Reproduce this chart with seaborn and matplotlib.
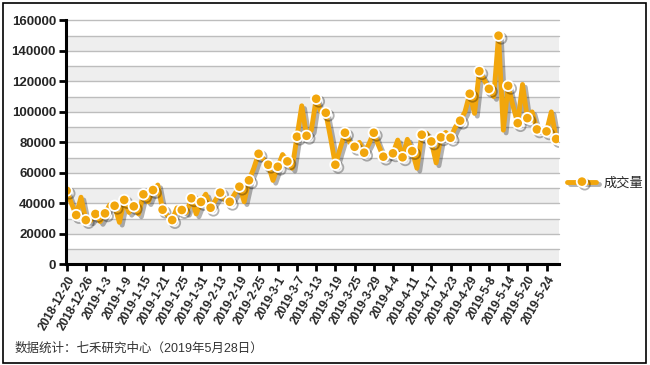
import matplotlib
matplotlib.use("Agg")
import matplotlib.pyplot as plt
import matplotlib.patheffects as pe
from matplotlib.patches import Rectangle
import seaborn as sns
import pandas as pd

# daily trading volume, 2018-12-20 .. 2019-05-28 (trading days only)
volume = [
    48300, 40000, 32300, 44000, 29000, 28500, 33000, 28000, 33400, 39000,
    38400, 27500, 42200, 34000, 38000, 33000, 45900, 41000, 48700, 52000,
    35800, 32000, 29000, 37000, 35600, 34000, 43300, 33000, 40900, 46000,
    37100, 42000, 47000, 42000, 41000, 46000, 50900, 41000, 55100, 63000,
    72500, 69000, 65300, 55000, 64000, 72000, 67500, 63000, 83700, 104000,
    84300, 88000, 108600, 100000, 99400, 83000, 65300, 76000, 86300, 80000,
    77100, 80000, 73200, 79000, 86300, 78000, 70600, 71000, 72800, 81500,
    70200, 82000, 74300, 63000, 85000, 86000, 80600, 66500, 83300, 86500,
    83000, 90000, 94200, 100000, 111900, 99000, 126700, 121000, 115100, 110000,
    150000, 88000, 117100, 104000, 92600, 118000, 95900, 100000, 88500, 88000,
    87200, 100000, 82200,
]

# one label every 4 trading days
tick_labels = [
    "2018-12-20", "2018-12-26", "2019-1-3", "2019-1-9", "2019-1-15", "2019-1-21",
    "2019-1-25", "2019-1-31", "2019-2-13", "2019-2-19", "2019-2-25", "2019-3-1",
    "2019-3-7", "2019-3-13", "2019-3-19", "2019-3-25", "2019-3-29", "2019-4-4",
    "2019-4-11", "2019-4-17", "2019-4-23", "2019-4-29", "2019-5-8", "2019-5-14",
    "2019-5-20", "2019-5-24",
]

series_name = "成交量"
source_note = "数据统计：七禾研究中心（2019年5月28日）"

sns.set_style("white", {"xtick.bottom": True, "ytick.left": True,
                        "axes.edgecolor": "black"})
plt.rcParams["font.family"] = ["Liberation Sans", "Noto Sans CJK SC"]

df = pd.DataFrame({"idx": range(len(volume)), "volume": volume})

fig = plt.figure(figsize=(6.5, 3.65), dpi=100)
ax = fig.add_axes([0.101, 0.276, 0.759, 0.668])

# alternating bands + gridlines
for lo in range(0, 160000, 20000):
    ax.axhspan(lo, lo + 10000, color="#eeeeee", lw=0, zorder=0)
for v in range(0, 160001, 10000):
    ax.axhline(v, color="#bdbdbd", lw=1.0, zorder=1, clip_on=False)

orange = "#F2A60C"
sns.lineplot(
    data=df, x="idx", y="volume", ax=ax, color=orange, lw=3.5,
    marker="o", markersize=7.5, markerfacecolor=orange,
    markeredgecolor="white", markeredgewidth=1.3, markevery=2,
    label=series_name, zorder=3,
    path_effects=[pe.SimpleLineShadow(offset=(2, -2), shadow_color="black", alpha=0.3),
                  pe.Normal()],
)

ax.set_xlim(-0.2, 102.6)
ax.set_ylim(0, 160000)
ax.set_xlabel("")
ax.set_ylabel("")

ax.set_yticks(range(0, 160001, 20000))
ax.set_yticklabels([str(v) for v in range(0, 160001, 20000)],
                   fontsize=9.5, fontweight="bold")
ax.set_xticks(range(0, len(volume), 4))
ax.set_xticklabels(tick_labels, rotation=60, ha="right", rotation_mode="anchor",
                   fontsize=8.5, fontweight="bold")
ax.tick_params(axis="both", direction="out", length=5, width=2, color="black",
               left=True, bottom=True, pad=2)

for side in ["top", "right"]:
    ax.spines[side].set_visible(False)
for side in ["left", "bottom"]:
    ax.spines[side].set_visible(True)
    ax.spines[side].set_color("black")
    ax.spines[side].set_linewidth(2.2)
    ax.spines[side].set_zorder(5)

ax.legend(loc="center left", bbox_to_anchor=(0.993, 0.333), frameon=False,
          fontsize=9.5, handlelength=2.2, handletextpad=0.5)

fig.text(15 / 650, 1 - 349 / 365, source_note, fontsize=9, color="#333333", va="center")
fig.patches.append(Rectangle((0.004, 0.006), 0.99, 0.986, transform=fig.transFigure,
                             fill=False, ec="black", lw=1.2))

fig.savefig("out.png", dpi=100)
